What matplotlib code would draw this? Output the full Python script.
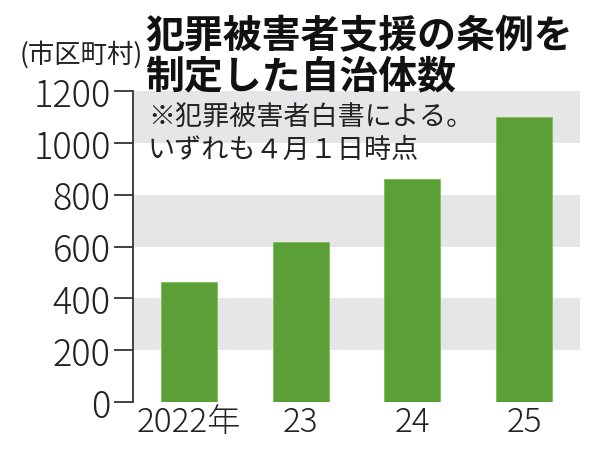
import matplotlib
matplotlib.use('Agg')
import matplotlib.pyplot as plt

plt.rcParams['font.family'] = ['Noto Sans CJK JP', 'DejaVu Sans']

years = ['2022年', '23', '24', '25']
counts = [463, 618, 861, 1100]
yticks = [0, 200, 400, 600, 800, 1000, 1200]
title_lines = ['犯罪被害者支援の条例を', '制定した自治体数']
note_lines = ['※犯罪被害者白書による。', 'いずれも４月１日時点']
unit = '(市区町村)'

W, H = 600, 460
fig = plt.figure(figsize=(6, 4.6), dpi=100)
ax = fig.add_axes([133 / W, 57 / H, 447 / W, 311 / H])

for lo in (200, 600, 1000):
    ax.axhspan(lo, lo + 200, color='#e6e6e8', lw=0, zorder=0)

ax.bar(range(len(counts)), counts, width=0.5, color='#5ba037',
       edgecolor='#7cc04f', linewidth=0.6, zorder=2)

ax.set_xlim(-0.5, 3.5)
ax.set_ylim(0, 1200)
ax.set_yticks(yticks)
ax.set_xticks(range(len(years)), years)

for s in ('top', 'right', 'bottom'):
    ax.spines[s].set_visible(False)
ax.spines['left'].set_color('#333333')
ax.spines['left'].set_linewidth(1.3)

ax.tick_params(axis='y', length=14, width=1.3, color='#333333', pad=2,
               labelsize=26, labelcolor='#222222')
ax.tick_params(axis='x', length=0, pad=2, labelsize=24, labelcolor='#222222')
for lab in ax.get_xticklabels() + ax.get_yticklabels():
    lab.set_fontweight('light')

# title and notes
fig.text(145 / W, 1 - 36.5 / H, title_lines[0], fontsize=28, fontweight='bold',
         color='#111111', va='center', ha='left')
fig.text(145 / W, 1 - 76.5 / H, title_lines[1], fontsize=28, fontweight='bold',
         color='#111111', va='center', ha='left')
fig.text(148 / W, 1 - 118.5 / H, note_lines[0], fontsize=19.5,
         color='#222222', va='center', ha='left')
fig.text(148 / W, 1 - 150 / H, note_lines[1], fontsize=19.5,
         color='#222222', va='center', ha='left')
fig.text(20 / W, 1 - 55 / H, unit, fontsize=19, color='#222222',
         va='center', ha='left')

fig.savefig('out.png', dpi=100, facecolor='white')
